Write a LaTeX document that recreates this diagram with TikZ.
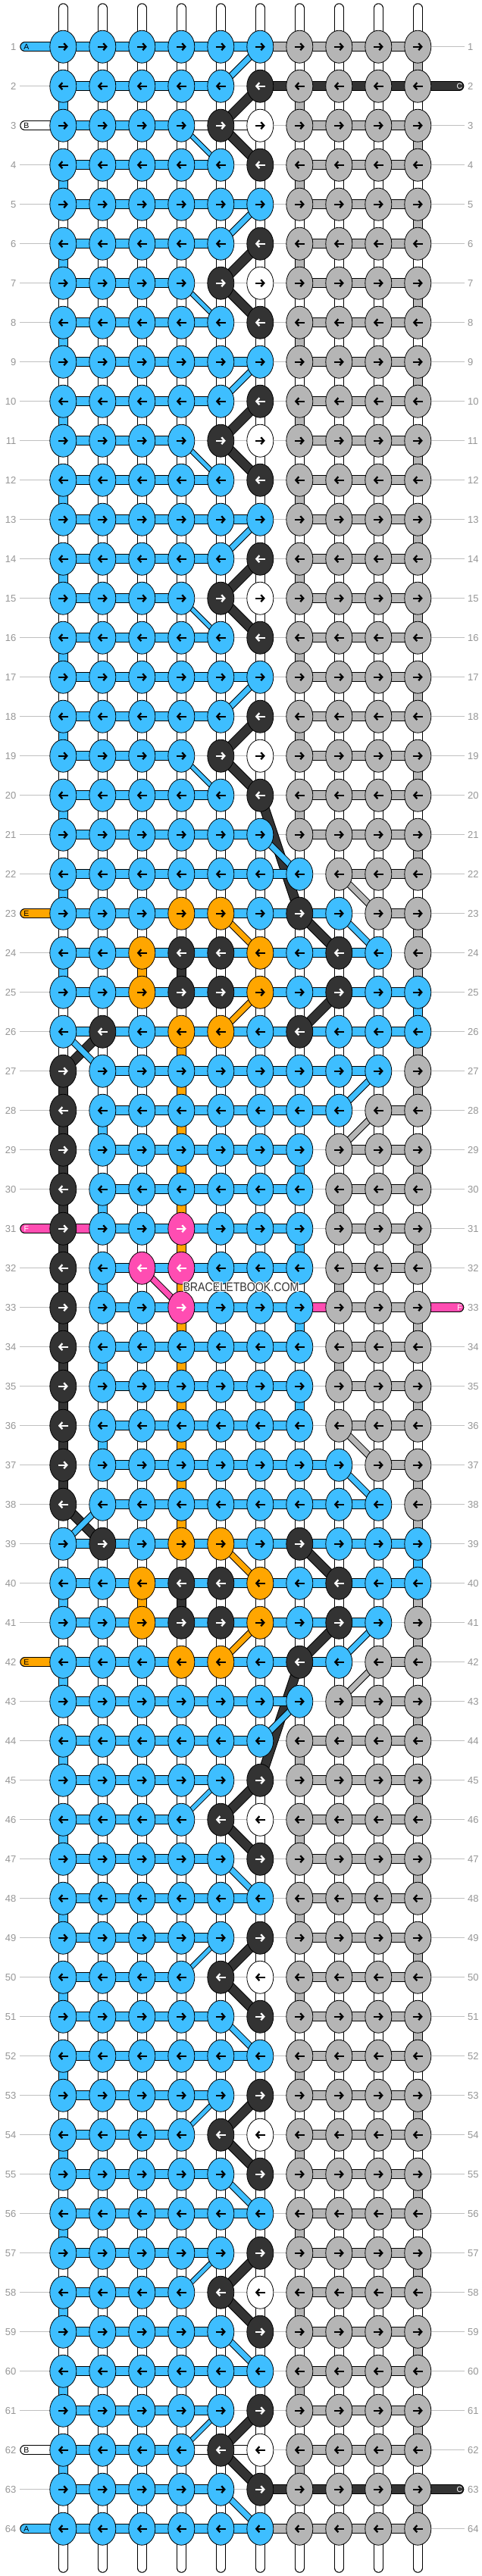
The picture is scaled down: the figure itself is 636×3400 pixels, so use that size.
\documentclass[tikz,border=0pt]{standalone}
\usepackage{fontspec}
\setmainfont{Liberation Sans}
\usepackage{xstring}
\usetikzlibrary{arrows.meta,shapes.geometric}
\definecolor{cb}{RGB}{62,190,255}
\definecolor{cg}{RGB}{181,181,181}
\definecolor{ck}{RGB}{51,51,51}
\definecolor{cw}{RGB}{255,255,255}
\definecolor{co}{RGB}{255,166,0}
\definecolor{cp}{RGB}{255,77,178}
\colorlet{ab}{black}\colorlet{ag}{black}\colorlet{aw}{black}\colorlet{ao}{black}
\colorlet{ak}{white}\colorlet{ap}{white}
\definecolor{guide}{RGB}{192,192,192}
\definecolor{numc}{RGB}{150,150,150}
\def\rowdata{1/bbbbbbgggg/bbbbbgggg,2/bbbbbkgggg/bbbb-kkkk,3/bbbbkwgggg/bbbww-ggg,4/bbbbbkgggg/bbbb--ggg,%
5/bbbbbbgggg/bbbbb-ggg,6/bbbbbkgggg/bbbb--ggg,7/bbbbkwgggg/bbb---ggg,8/bbbbbkgggg/bbbb--ggg,%
9/bbbbbbgggg/bbbbb-ggg,10/bbbbbkgggg/bbbb--ggg,11/bbbbkwgggg/bbb---ggg,12/bbbbbkgggg/bbbb--ggg,%
13/bbbbbbgggg/bbbbb-ggg,14/bbbbbkgggg/bbbb--ggg,15/bbbbkwgggg/bbb---ggg,16/bbbbbkgggg/bbbb--ggg,%
17/bbbbbbgggg/bbbbb-ggg,18/bbbbbkgggg/bbbb--ggg,19/bbbbkwgggg/bbb---ggg,20/bbbbbkgggg/bbbb--ggg,%
21/bbbbbbgggg/bbbbb-ggg,22/bbbbbbbggg/bbbbbb-gg,23/bbboobkbgg/bbbbbbb-g,24/bbokkobkbg/bbbbbbbb-,%
25/bbokkobkbb/bbbbbbbbb,26/bkboobkbbb/bbbbbbbbb,27/kbbbbbbbbg/-bbbbbbb-,28/kbbbbbbbgg/-bbbbbb-g,%
29/kbbbbbbggg/-bbbbb-gg,30/kbbbbbbggg/-bbbbb-gg,31/kbbpbbbggg/pbbbbb-gg,32/kbppbbbggg/-bbbbb-gg,%
33/kbbpbbbggg/-bbbbbpgg,34/kbbbbbbggg/-bbbbb-gg,35/kbbbbbbggg/-bbbbb-gg,36/kbbbbbbggg/-bbbbb-gg,%
37/kbbbbbbbgg/-bbbbbb-g,38/kbbbbbbbbg/-bbbbbbb-,39/bkboobkbbb/bbbbbbbbb,40/bbokkobkbb/bbbbbbbbb,%
41/bbokkobkbg/bbbbbbbb-,42/bbboobkbgg/bbbbbbb-g,43/bbbbbbbggg/bbbbbb-gg,44/bbbbbbgggg/bbbbb-ggg,%
45/bbbbbkgggg/bbbb--ggg,46/bbbbkwgggg/bbb---ggg,47/bbbbbkgggg/bbbb--ggg,48/bbbbbbgggg/bbbbb-ggg,%
49/bbbbbkgggg/bbbb--ggg,50/bbbbkwgggg/bbb---ggg,51/bbbbbkgggg/bbbb--ggg,52/bbbbbbgggg/bbbbb-ggg,%
53/bbbbbkgggg/bbbb--ggg,54/bbbbkwgggg/bbb---ggg,55/bbbbbkgggg/bbbb--ggg,56/bbbbbbgggg/bbbbb-ggg,%
57/bbbbbkgggg/bbbb--ggg,58/bbbbkwgggg/bbb---ggg,59/bbbbbkgggg/bbbb--ggg,60/bbbbbbgggg/bbbbb-ggg,%
61/bbbbbkgggg/bbbb--ggg,62/bbbbkwgggg/bbbww-ggg,63/bbbbbkgggg/bbbb-kkkk,64/bbbbbbgggg/bbbbbgggg}
\def\gapdata{1/wwwwwwwwwg,2/bwwwwwgwww,3/wwwwwwwwwg,4/bwwwwwgwww,5/wwwwwwwwwg,6/bwwwwwgwww,%
7/wwwwwwwwwg,8/bwwwwwgwww,9/wwwwwwwwwg,10/bwwwwwgwww,11/wwwwwwwwwg,12/bwwwwwgwww,%
13/wwwwwwwwwg,14/bwwwwwgwww,15/wwwwwwwwwg,16/bwwwwwgwww,17/wwwwwwwwwg,18/bwwwwwgwww,%
19/wwwwwwwwwg,20/bwwwwwgwww,21/wwwwwwwwwg,22/bwwwwwwwww,23/wwwwwwwwwg,24/bwokwwwwwg,%
25/wwwwwwwwwb,26/wwwowwwwwg,27/kwwowwwwwg,28/kbwowwwwww,29/kwwowwbwwg,30/kbwowwwgww,%
31/kwwowwbwwg,32/kbwowwwgww,33/kwwowwbwwg,34/kbwowwwgww,35/kwwowwbwwg,36/kbwowwwwww,%
37/kwwowwwwwg,38/wwwowwwwwg,39/wwwwwwwwwb,40/bwokwwwwwg,41/wwwwwwwwwg,42/bwwwwwwwww,%
43/wwwwwwwwwg,44/bwwwwwgwww,45/wwwwwwwwwg,46/bwwwwwgwww,47/wwwwwwwwwg,48/bwwwwwgwww,%
49/wwwwwwwwwg,50/bwwwwwgwww,51/wwwwwwwwwg,52/bwwwwwgwww,53/wwwwwwwwwg,54/bwwwwwgwww,%
55/wwwwwwwwwg,56/bwwwwwgwww,57/wwwwwwwwwg,58/bwwwwwgwww,59/wwwwwwwwwg,60/bwwwwwgwww,%
61/wwwwwwwwwg,62/bwwwwwgwww,63/wwwwwwwwwg}
\tikzset{
  knot/.style={ellipse,draw=black,line width=0.8pt,minimum width=35pt,minimum height=43pt,inner sep=0pt},
  rim/.style={draw=black,line width=12.5pt},
  core/.style={line width=10.5pt},
  rownum/.style={text=numc,font=\fontsize{13}{13}\selectfont,inner sep=0pt},
  tag/.style={font=\fontsize{10.5}{10.5}\selectfont,inner sep=0pt},
  arr/.style={line width=2.3pt,-{Straight Barb[length=4pt,width=9pt]}}
}
\begin{document}
\begin{tikzpicture}[x=1pt,y=-1pt]
\useasboundingbox (0,0) rectangle (636,3400);
\fill[white] (0,0) rectangle (636,3400);
% coordinates
\foreach \r in {1,...,64}{
  \foreach \c in {1,...,10}{
    \coordinate (p-\r-\c) at ({31.3+52*\c},{9.7+52*\r});
  }
  \coordinate (gl-\r) at (26,{9.7+52*\r});
  \coordinate (gr-\r) at (613,{9.7+52*\r});
  \coordinate (le-\r) at (32.5,{9.7+52*\r});
  \coordinate (re-\r) at (606,{9.7+52*\r});
}
\foreach \c in {1,...,10}{
  \coordinate (top-\c) at ({31.3+52*\c},10.5);
  \coordinate (bot-\c) at ({31.3+52*\c},3389.5);
}
% guide lines and numbers
\foreach \r in {1,...,64}{
  \draw[guide,line width=1pt] (gl-\r) -- (gr-\r);
  \node[rownum,anchor=east] (nl-\r) at ([xshift=-4.5pt]gl-\r) {\r};
  \node[rownum,anchor=west] (nr-\r) at ([xshift=4pt]gr-\r) {\r};
}
% vertical stubs
\foreach \c in {1,...,10}{
  \draw[rim,line cap=round] (top-\c) -- (p-1-\c);
  \draw[core,white,line cap=round] (top-\c) -- (p-1-\c);
  \draw[rim,line cap=round] (bot-\c) -- (p-64-\c);
  \draw[core,white,line cap=round] (bot-\c) -- (p-64-\c);
}
% vertical gap segments
\foreach \g/\V in \gapdata{
  \pgfmathtruncatemacro\gn{\g+1}
  \foreach \c in {1,...,10}{
    \StrChar{\V}{\c}[\vv]
    \draw[rim] (p-\g-\c) -- (p-\gn-\c);
    \draw[core,c\vv] (p-\g-\c) -- (p-\gn-\c);
  }
}
% black diagonals
\foreach \k in {0,...,4}{
  \pgfmathtruncatemacro\ra{4*\k+2}\pgfmathtruncatemacro\rb{4*\k+3}\pgfmathtruncatemacro\rc{4*\k+4}
  \pgfmathtruncatemacro\ma{65-\ra}\pgfmathtruncatemacro\mb{65-\rb}\pgfmathtruncatemacro\mc{65-\rc}
  \foreach \x/\y/\u/\v in {\ra/6/\rb/5,\rb/5/\rc/6,\ma/6/\mb/5,\mb/5/\mc/6}{
    \draw[black,line width=13pt] (p-\x-\y) -- (p-\u-\v);
    \draw[ck,line width=11pt] (p-\x-\y) -- (p-\u-\v);
  }
}
\foreach \x/\y/\u/\v in {20/6/23/7,45/6/42/7,23/7/24/8,42/7/41/8,25/8/26/7,40/8/39/7,26/2/27/1,39/2/38/1}{
  \draw[black,line width=13pt] (p-\x-\y) -- (p-\u-\v);
  \draw[ck,line width=11pt] (p-\x-\y) -- (p-\u-\v);
}
% coloured diagonals
\foreach \k in {0,...,4}{
  \pgfmathtruncatemacro\ra{4*\k+1}\pgfmathtruncatemacro\rb{4*\k+2}
  \pgfmathtruncatemacro\rc{4*\k+3}\pgfmathtruncatemacro\rd{4*\k+4}
  \pgfmathtruncatemacro\ma{65-\ra}\pgfmathtruncatemacro\mb{65-\rb}
  \pgfmathtruncatemacro\mc{65-\rc}\pgfmathtruncatemacro\md{65-\rd}
  \foreach \x/\y/\u/\v/\w in {\ra/6/\rb/5/7,\ma/6/\mb/5/7,\rc/4/\rd/5/5,\mc/4/\md/5/5}{
    \pgfmathsetmacro\wo{\w+2}
    \draw[black,line width=\wo pt] (p-\x-\y) -- (p-\u-\v);
    \draw[cb,line width=\w pt] (p-\x-\y) -- (p-\u-\v);
  }
}
\foreach \x/\y/\u/\v/\col in {21/6/22/7/cb,44/6/43/7/cb,22/8/23/9/cg,43/8/42/9/cg,23/5/24/6/co,42/5/41/6/co,
  23/8/24/9/cb,42/8/41/9/cb,25/6/26/5/co,40/6/39/5/co,26/1/27/2/cb,39/1/38/2/cb,27/9/28/8/cb,38/9/37/8/cb,
  28/9/29/8/cg,37/9/36/8/cg,32/3/33/4/cp}{
  \draw[black,line width=9pt] (p-\x-\y) -- (p-\u-\v);
  \draw[\col,line width=7pt] (p-\x-\y) -- (p-\u-\v);
}
% label tails
\foreach \r/\col/\txt/\tc in {1/cb/A/black,3/cw/B/black,23/co/E/black,31/cp/F/white,42/co/E/black,62/cw/B/black,64/cb/A/black}{
  \draw[rim,line cap=round] (le-\r) -- (p-\r-1);
  \draw[core,\col,line cap=round] (le-\r) -- (p-\r-1);
  \node[tag,text=\tc] (tl-\r) at ([xshift=2.3pt]le-\r) {\txt};
}
\foreach \r/\col/\txt/\tc in {2/ck/C/white,33/cp/F/white,63/ck/C/white}{
  \draw[rim,line cap=round] (re-\r) -- (p-\r-10);
  \draw[core,\col,line cap=round] (re-\r) -- (p-\r-10);
  \node[tag,text=\tc] (tr-\r) at ([xshift=0.5pt]re-\r) {\txt};
}
% horizontal bars, knots, arrows
\foreach \r/\K/\H in \rowdata{
  \foreach \c in {1,...,9}{
    \StrChar{\H}{\c}[\hh]
    \pgfmathtruncatemacro\cn{\c+1}
    \IfStrEq{\hh}{-}{}{%
      \draw[rim] (p-\r-\c) -- (p-\r-\cn);
      \draw[core,c\hh] (p-\r-\c) -- (p-\r-\cn);
    }
  }
  \foreach \c in {1,...,10}{
    \StrChar{\K}{\c}[\ch]
    \node[knot,fill=c\ch] (k-\r-\c) at (p-\r-\c) {};
    \ifodd\r
      \draw[arr,a\ch] ([xshift=-6.5pt]k-\r-\c.center) -- ([xshift=6.5pt]k-\r-\c.center);
    \else
      \draw[arr,a\ch] ([xshift=6.5pt]k-\r-\c.center) -- ([xshift=-6.5pt]k-\r-\c.center);
    \fi
  }
}
% watermark
\foreach \dx/\dy in {-1/0,1/0,0/-1,0/1,-1/-1,1/1,-1/1,1/-1}{
  \node[text=white,font=\fontsize{16.5}{16.5}\selectfont,xscale=0.86] at ({318+\dx},{1699+\dy}) {BRACELETBOOK.COM};
}
\node[text=ck,font=\fontsize{16.5}{16.5}\selectfont,xscale=0.86] (wm) at (318,1699) {BRACELETBOOK.COM};
\end{tikzpicture}
\end{document}
